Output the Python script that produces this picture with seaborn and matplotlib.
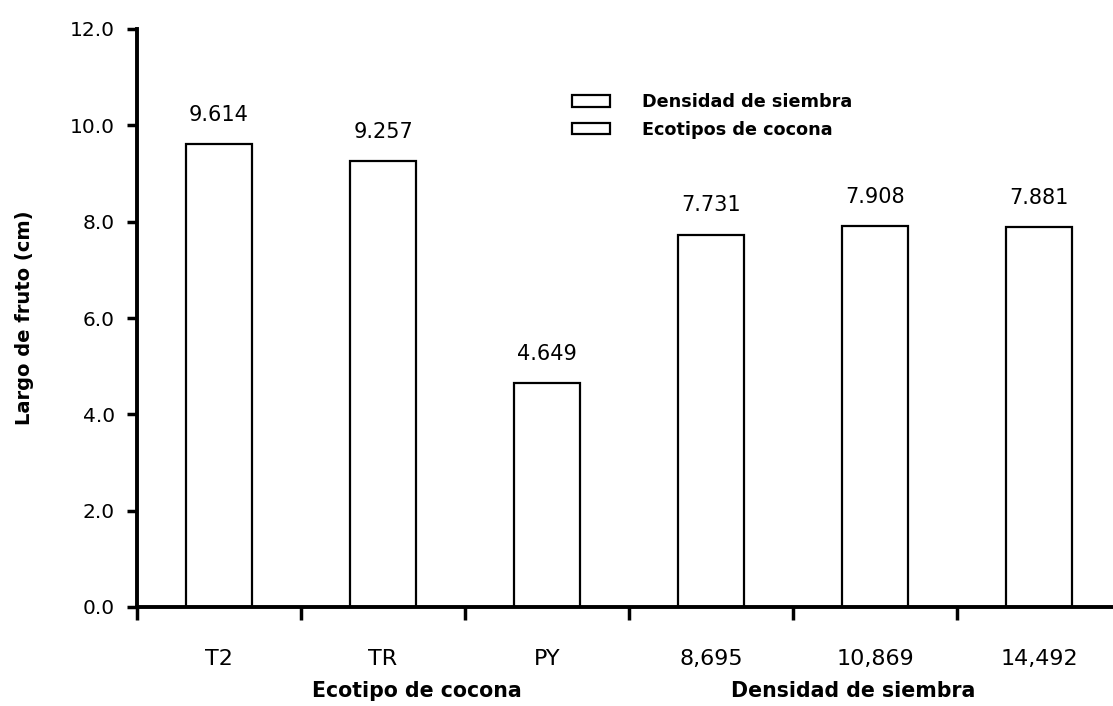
import matplotlib
matplotlib.use("Agg")
import matplotlib.pyplot as plt
from matplotlib.patches import Patch
import seaborn as sns
import pandas as pd

categories = ["T2", "TR", "PY", "8,695", "10,869", "14,492"]
values = [9.614, 9.257, 4.649, 7.731, 7.908, 7.881]
groups = ["Ecotipos de cocona"] * 3 + ["Densidad de siembra"] * 3
legend_order = ["Densidad de siembra", "Ecotipos de cocona"]
group_titles = ["Ecotipo de cocona", "Densidad de siembra"]
yticks = [0, 2, 4, 6, 8, 10, 12]
ylabel = "Largo de fruto (cm)"

sns.set_style("white")
plt.rcParams["font.family"] = ["DejaVu Sans"]
plt.rcParams["text.color"] = "black"
plt.rcParams["xtick.color"] = "black"
plt.rcParams["ytick.color"] = "black"

df = pd.DataFrame({"cat": categories, "val": values, "grp": groups})

W, H = 1113, 706
fig = plt.figure(figsize=(W / 100, H / 100), dpi=100)
ax = fig.add_axes([137 / W, (H - 607) / H, 1 - 137 / W, (607 - 29) / H])

sns.barplot(data=df, x="cat", y="val", hue="grp", hue_order=legend_order,
            palette={g: "white" for g in legend_order}, dodge=False,
            width=0.4, edgecolor="black", linewidth=1.6, legend=False, ax=ax,
            order=categories)

ax.set_xlim(-0.5, 5.45)
ax.set_ylim(0, 12)
ax.set_yticks(yticks)
ax.set_yticklabels([f"{v:.1f}" for v in yticks], fontsize=14.5)
ax.tick_params(axis="y", left=True, direction="out", length=7, width=2.5, pad=9,
               color="black", labelcolor="black")

narrow = ["Liberation Sans Narrow", "DejaVu Sans Condensed", "DejaVu Sans"]
ax.set_xticks([i - 0.5 for i in range(len(categories))])
ax.set_xticklabels([])
ax.set_xticks(list(range(len(categories))), minor=True)
ax.set_xticklabels(categories, minor=True, fontsize=16, family=narrow)
ax.tick_params(axis="x", which="major", bottom=True, direction="out", length=9,
               width=2.5, color="black")
ax.tick_params(axis="x", which="minor", bottom=True, length=0, pad=30,
               labelcolor="black")
ax.set_xlabel("")
ax.set_ylabel("")

for side in ["top", "right"]:
    ax.spines[side].set_visible(False)
for side in ["left", "bottom"]:
    ax.spines[side].set_linewidth(2.8)
    ax.spines[side].set_color("black")

for i, v in enumerate(values):
    ax.annotate(f"{v:.3f}", xy=(i, v), xytext=(0, 21), textcoords="offset points",
                ha="center", va="center", fontsize=15, color="black")

handles = [Patch(facecolor="white", edgecolor="black", linewidth=1.6) for _ in legend_order]
leg = ax.legend(handles, legend_order, loc="upper left",
                bbox_to_anchor=(572 / W, (H - 93) / H), bbox_transform=fig.transFigure,
                frameon=False, borderpad=0, borderaxespad=0, handlelength=2.15,
                handleheight=0.63, handletextpad=1.8, labelspacing=0.55,
                prop={"weight": "bold", "size": 12.7})
for t in leg.get_texts():
    t.set_color("black")

fig.text(25 / W, (H - 318) / H, ylabel, rotation=90, ha="center", va="center",
         fontsize=14, fontweight="bold", color="black")
fig.text(417 / W, (H - 691) / H, group_titles[0], ha="center", va="center",
         fontsize=14.8, fontweight="bold", color="black", family=narrow)
fig.text(853 / W, (H - 691) / H, group_titles[1], ha="center", va="center",
         fontsize=14.8, fontweight="bold", color="black", family=narrow)

fig.savefig("out.png", dpi=100)
